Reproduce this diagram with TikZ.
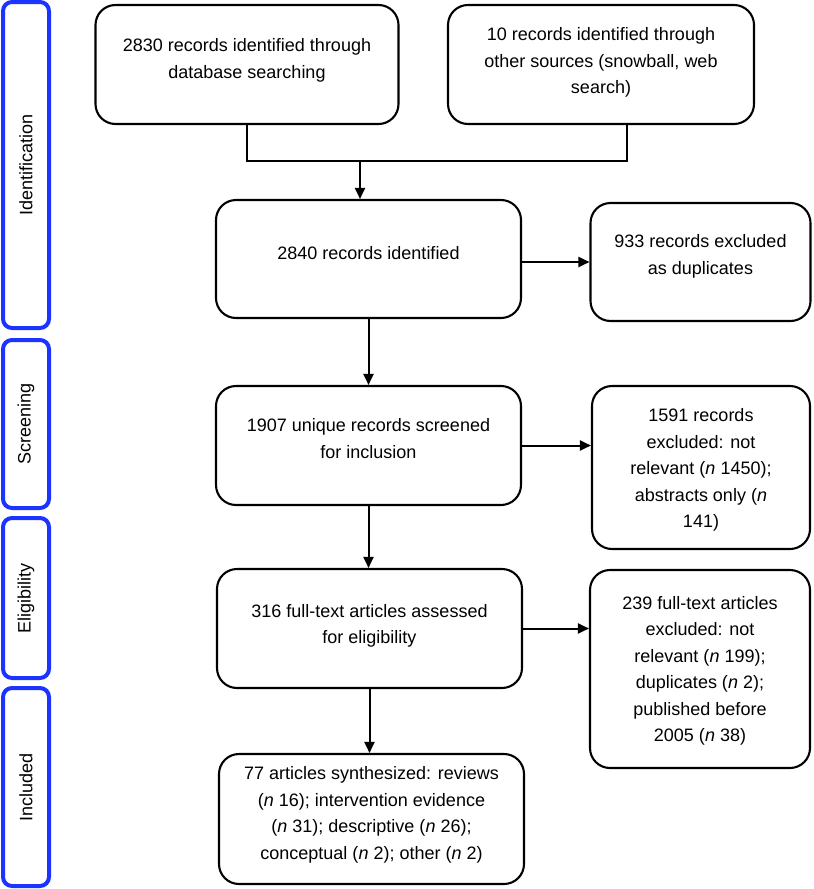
\documentclass[tikz,border=0pt]{standalone}
\usepackage{fontspec}
\setmainfont{Liberation Sans}
\usetikzlibrary{arrows.meta,calc}
\definecolor{phaseblue}{RGB}{28,52,255}
\begin{document}
\begin{tikzpicture}[x=1pt,y=-1pt,
  box/.style={draw=black,line width=2.1pt,rounded corners=20pt,fill=white},
  phasebox/.style={draw=phaseblue,line width=4pt,rounded corners=9pt,rotate=90,
    font={\fontsize{18}{22}\selectfont},inner sep=0pt},
  txt/.style={align=center,font={\fontsize{18}{26.5}\selectfont},inner sep=0pt},
  conn/.style={line width=2pt},
  arr/.style={line width=2pt,-{Triangle[length=11pt,width=10pt]}}]
\useasboundingbox (0,0) rectangle (814,889);
% phase labels
\node[phasebox,minimum width=326pt,minimum height=46pt] (P1) at (26,165) {Identification};
\node[phasebox,minimum width=168pt,minimum height=46pt] (P2) at (26,424) {Screening};
\node[phasebox,minimum width=160pt,minimum height=46pt] (P3) at (26,598) {Eligibility};
\node[phasebox,minimum width=198pt,minimum height=46pt] (P4) at (26,787) {Included};
% boxes
\node[box,minimum width=303pt,minimum height=119pt] (A) at (247,64.5) {};
\node[box,minimum width=306pt,minimum height=119pt] (B) at (601,64.5) {};
\node[box,minimum width=305pt,minimum height=118pt] (C) at (368.5,259) {};
\node[box,minimum width=220pt,minimum height=118pt] (D) at (700.5,262) {};
\node[box,minimum width=305pt,minimum height=119pt] (E) at (368.5,445.5) {};
\node[box,minimum width=218pt,minimum height=163pt] (F) at (701,467.5) {};
\node[box,minimum width=305pt,minimum height=119pt] (G) at (369.5,628.5) {};
\node[box,minimum width=220pt,minimum height=198pt] (H) at (700,669) {};
\node[box,minimum width=305pt,minimum height=130pt] (I) at (371.5,819) {};
% texts
\node[txt] (At) at ([yshift=4pt]A.center) {2830 records identified through\\database searching};
\node[txt] (Bt) at ([yshift=2pt]B.center) {10 records identified through\\other sources (snowball, web\\search)};
\node[txt] (Ct) at ([yshift=6pt]C.center) {2840 records identified};
\node[txt] (Dt) at ([yshift=5.5pt]D.center) {933 records excluded\\as duplicates};
\node[txt] (Et) at ([yshift=7pt]E.center) {1907 unique records screened\\for inclusion};
\node[txt] (Ft) at ([yshift=-2.5pt]F.center) {1591 records\\excluded: not\\relevant (\textit{n} 1450);\\abstracts only (\textit{n}\\141)};
\node[txt] (Gt) at ([yshift=2.5pt]G.center) {316 full-text articles assessed\\for eligibility};
\node[txt] (Ht) at ([yshift=-2pt]H.center) {239 full-text articles\\excluded: not\\relevant (\textit{n} 199);\\duplicates (\textit{n} 2);\\published before\\2005 (\textit{n} 38)};
\node[txt] (It) at ([yshift=4pt]I.center) {77 articles synthesized: reviews\\(\textit{n} 16); intervention evidence\hspace*{24pt}\\(\textit{n} 31); descriptive (\textit{n} 26);\\conceptual (\textit{n} 2); other (\textit{n} 2)};
% connectors
\coordinate (J) at (360,161);
\coordinate (Bd) at ([xshift=26pt]B.south);
\draw[conn] (A.south) |- (Bd |- J) -- (Bd);
\draw[arr] (J) -- (J |- C.north);
\draw[arr] (C.east |- D.west) -- (D.west);
\draw[arr] (C.south) -- (E.north);
\draw[arr] (E.east) -- (E.east -| F.west);
\draw[arr] (E.south) -- (E.south |- G.north);
\draw[arr] (G.east) -- (G.east -| H.west);
\draw[arr] (G.south) -- (G.south |- I.north);
\end{tikzpicture}
\end{document}
